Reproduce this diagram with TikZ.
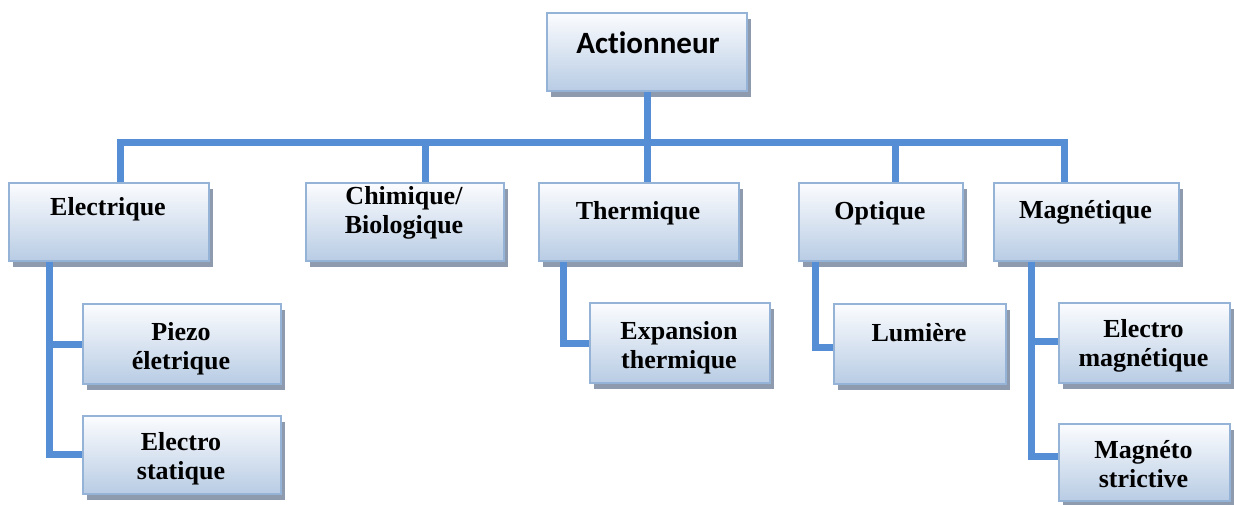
\documentclass[tikz,border=0pt]{standalone}
\usepackage{fontspec}
\setmainfont{Liberation Serif}
\newfontfamily\rootfont[Ligatures={NoCommon}]{Carlito}
\usetikzlibrary{shadows}

\definecolor{boxborder}{HTML}{95B3D7}
\definecolor{boxtop}{HTML}{FBFCFE}
\definecolor{boxbot}{HTML}{B8CCE4}
\definecolor{shadowcol}{HTML}{8E9BAE}
\definecolor{conncol}{HTML}{558ED5}

\tikzset{
  box/.style={draw=boxborder, line width=2pt, top color=boxtop, bottom color=boxbot,
    inner sep=0pt, anchor=north west,
    drop shadow={shadow xshift=4pt, shadow yshift=-6pt, fill=shadowcol, opacity=1}},
  lbl/.style={font=\fontsize{26}{29}\selectfont\bfseries, inner sep=0pt},
  rootlbl/.style={font=\rootfont\fontsize{31}{36}\selectfont\bfseries, inner sep=0pt, anchor=base},
  conn/.style={draw=conncol, line width=7pt},
}

% box with corners (x1,y1) and (x2,y2), in pixel units
\newcommand\mkbox[5]{%
  \node[box, minimum width={#4pt-#2pt}, minimum height={#5pt-#3pt}] (#1) at (#2,#3) {};}
\newcommand\twoline[2]{\begin{tabular}{@{}c@{}}#1\\#2\end{tabular}}

\begin{document}
\begin{tikzpicture}[x=1pt, y=-1pt]
\useasboundingbox (0,0) rectangle (1234,504);

% boxes
\mkbox{root}{546}{12}{746}{90}
\mkbox{elec}{8}{182}{208}{260}
\mkbox{chim}{305}{182}{503}{260}
\mkbox{therm}{538}{182}{738}{260}
\mkbox{opt}{798}{182}{962}{260}
\mkbox{mag}{993}{182}{1178}{260}
\mkbox{piezo}{82}{303}{280}{383}
\mkbox{estat}{82}{415}{280}{493}
\mkbox{expa}{589}{302}{769}{382}
\mkbox{lum}{833}{303}{1005}{383}
\mkbox{emag}{1058}{302}{1229}{382}
\mkbox{mstr}{1058}{423}{1229}{500}

% labels
\node[rootlbl] (root-t) at (648,53) {Actionneur};
\node[lbl, anchor=base] (elec-t) at (108,215) {Electrique};
\node[lbl] (chim-t) at (404,213.5) {\twoline{Chimique/}{Biologique}};
\node[lbl, anchor=base] (therm-t) at (638,219) {Thermique};
\node[lbl, anchor=base] (opt-t) at (880,219) {Optique};
\node[lbl, anchor=base] (mag-t) at (1085.5,218) {Magnétique};
\node[lbl] (piezo-t) at (181,349.5) {\twoline{Piezo}{életrique}};
\node[lbl] (estat-t) at (181,459.5) {\twoline{Electro}{statique}};
\node[lbl] (expa-t) at (679,348.5) {\twoline{Expansion}{thermique}};
\node[lbl, anchor=base] (lum-t) at (919,341) {Lumière};
\node[lbl] (emag-t) at (1143.5,346.5) {\twoline{Electro}{magnétique}};
\node[lbl] (mstr-t) at (1143.5,467.5) {\twoline{Magnéto}{strictive}};

% connectors
\coordinate (bus) at (646,142);
\draw[conn] ([xshift=11pt]elec.north) |- (bus) -| ([xshift=-22.5pt]mag.north);
\draw[conn] (root.south) -- (therm.north -| root.south);
\draw[conn] ([xshift=20pt]chim.north) |- (bus);
\draw[conn] ([xshift=14pt]opt.north) |- (bus);

\draw[conn] ([xshift=-60pt]elec.south) |- (piezo.west);
\draw[conn] ([xshift=-60pt]elec.south) |- ([yshift=1pt]estat.west);
\draw[conn] ([xshift=-76pt]therm.south) |- (expa.west);
\draw[conn] ([xshift=-66pt]opt.south) |- ([yshift=-3pt]lum.west);
\draw[conn] ([xshift=-55.5pt]mag.south) |- ([yshift=2pt]emag.west);
\draw[conn] ([xshift=-55.5pt]mag.south) |- ([yshift=6.5pt]mstr.west);
\end{tikzpicture}
\end{document}
